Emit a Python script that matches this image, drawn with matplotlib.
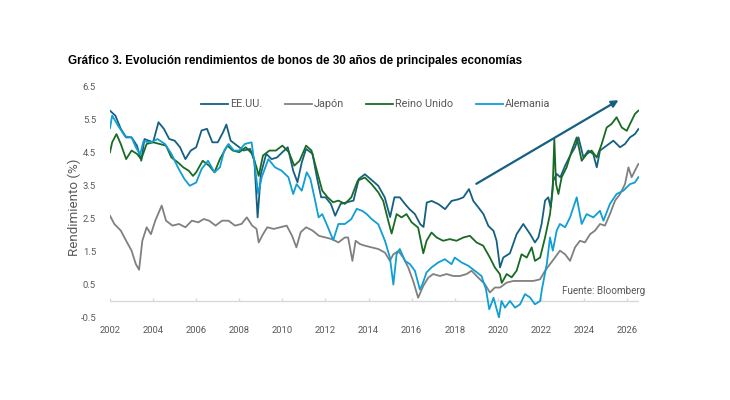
import matplotlib
matplotlib.use("Agg")
import matplotlib.pyplot as plt

# === DATOS (años fraccionales) ===
us_t = [2002.0, 2002.25, 2002.5, 2002.75, 2003.0, 2003.25, 2003.45, 2003.6, 2003.8, 2004.0,
        2004.25, 2004.5, 2004.75, 2005.0, 2005.25, 2005.5, 2005.75, 2006.0, 2006.25, 2006.5,
        2006.75, 2007.0, 2007.25, 2007.4, 2007.6, 2007.9, 2008.2, 2008.5, 2008.7, 2008.85,
        2009.0, 2009.25, 2009.5, 2009.75, 2010.0, 2010.25, 2010.5, 2010.7, 2010.9, 2011.1,
        2011.4, 2011.6, 2011.8, 2012.0, 2012.25, 2012.45, 2012.7, 2013.0, 2013.3, 2013.55,
        2013.83, 2014.1, 2014.45, 2014.75, 2015.0, 2015.2, 2015.45, 2015.7, 2015.9, 2016.15,
        2016.4, 2016.55, 2016.7, 2016.93, 2017.25, 2017.55, 2017.85, 2018.17, 2018.4, 2018.66,
        2018.86, 2019.1, 2019.33, 2019.56, 2019.8, 2019.94, 2020.1, 2020.25, 2020.56, 2020.87,
        2021.18, 2021.5, 2021.72, 2021.88, 2022.03, 2022.19, 2022.34, 2022.45, 2022.57, 2022.73,
        2022.9, 2023.12, 2023.35, 2023.58, 2023.74, 2023.97, 2024.2, 2024.43, 2024.59, 2024.74,
        2025.05, 2025.36, 2025.67, 2025.9, 2026.13, 2026.36, 2026.52]
us_y = [5.78, 5.63, 5.23, 4.97, 4.97, 4.72, 4.26, 4.92, 4.87, 4.82,
        5.43, 5.23, 4.92, 4.87, 4.67, 4.31, 4.57, 4.67, 5.18, 5.23,
        4.82, 4.82, 5.13, 5.36, 4.87, 4.72, 4.57, 4.62, 4.26, 2.54,
        3.86, 4.47, 4.31, 4.36, 4.52, 4.67, 3.96, 3.61, 4.21, 4.62,
        4.47, 3.76, 3.15, 3.15, 2.95, 2.59, 2.95, 3.0, 3.05, 3.71,
        3.85, 3.70, 3.5, 3.15, 2.55, 3.15, 3.15, 2.94, 2.79, 2.64,
        2.33, 2.25, 2.99, 3.04, 2.94, 2.79, 3.04, 3.09, 3.15, 3.40,
        3.04, 2.84, 2.64, 2.28, 2.13, 1.83, 1.02, 1.32, 1.45, 2.03,
        2.34, 2.03, 1.78, 1.93, 2.34, 3.05, 3.15, 2.84, 3.65, 3.86,
        3.76, 4.11, 4.41, 4.67, 4.97, 4.36, 4.57, 4.46, 4.06, 4.57,
        4.72, 4.87, 4.67, 4.77, 4.97, 5.07, 5.22]

jp_t = [2002.0, 2002.2, 2002.5, 2002.75, 2003.0, 2003.2, 2003.35, 2003.5, 2003.7, 2003.9,
        2004.1, 2004.4, 2004.6, 2004.9, 2005.2, 2005.5, 2005.8, 2006.1, 2006.35, 2006.6,
        2006.9, 2007.2, 2007.5, 2007.8, 2008.1, 2008.35, 2008.6, 2008.8, 2008.9, 2009.1,
        2009.3, 2009.6, 2009.9, 2010.2, 2010.45, 2010.65, 2010.85, 2011.1, 2011.4, 2011.7,
        2012.0, 2012.3, 2012.6, 2012.9, 2013.05, 2013.25, 2013.4, 2013.6, 2013.83, 2014.14,
        2014.45, 2014.76, 2014.99, 2015.15, 2015.38, 2015.61, 2015.84, 2016.07, 2016.3, 2016.54,
        2016.77, 2017.0, 2017.31, 2017.62, 2017.93, 2018.24, 2018.55, 2018.78, 2019.09, 2019.4,
        2019.63, 2019.86, 2020.1, 2020.41, 2020.72, 2021.03, 2021.34, 2021.65, 2021.96, 2022.19,
        2022.42, 2022.65, 2022.88, 2023.12, 2023.35, 2023.58, 2023.81, 2024.04, 2024.28, 2024.51,
        2024.74, 2024.97, 2025.2, 2025.44, 2025.67, 2025.9, 2026.06, 2026.21, 2026.36, 2026.52]
jp_y = [2.59, 2.34, 2.14, 1.83, 1.53, 1.12, 0.95, 1.83, 2.24, 2.03,
        2.44, 2.90, 2.44, 2.29, 2.34, 2.24, 2.44, 2.39, 2.49, 2.44,
        2.29, 2.44, 2.44, 2.29, 2.34, 2.54, 2.29, 2.19, 1.78, 2.03,
        2.24, 2.19, 2.24, 2.29, 1.98, 1.63, 2.09, 2.24, 2.14, 1.98,
        1.93, 1.88, 1.78, 1.93, 1.93, 1.22, 1.83, 1.73, 1.68, 1.63,
        1.58, 1.47, 1.22, 1.42, 1.52, 1.32, 1.02, 0.61, 0.1, 0.46,
        0.71, 0.82, 0.76, 0.82, 0.76, 0.76, 0.82, 0.92, 0.71, 0.51,
        0.26, 0.41, 0.41, 0.56, 0.61, 0.61, 0.61, 0.61, 0.66, 0.92,
        1.12, 1.32, 1.53, 1.42, 1.22, 1.63, 1.83, 1.78, 2.03, 2.14,
        2.34, 2.29, 2.64, 3.05, 3.25, 3.55, 4.06, 3.76, 3.96, 4.16]

uk_t = [2002.0, 2002.1, 2002.3, 2002.5, 2002.75, 2003.0, 2003.25, 2003.45, 2003.7, 2004.0,
        2004.3, 2004.6, 2004.85, 2005.15, 2005.4, 2005.65, 2005.85, 2006.0, 2006.3, 2006.6,
        2006.85, 2007.1, 2007.45, 2007.7, 2008.0, 2008.3, 2008.6, 2008.8, 2008.9, 2009.1,
        2009.4, 2009.7, 2010.0, 2010.3, 2010.55, 2010.8, 2011.1, 2011.35, 2011.6, 2011.85,
        2012.1, 2012.35, 2012.6, 2012.9, 2013.2, 2013.5, 2013.83, 2014.14, 2014.45, 2014.68,
        2014.91, 2015.07, 2015.3, 2015.53, 2015.76, 2016.0, 2016.3, 2016.54, 2016.69, 2016.92,
        2017.16, 2017.46, 2017.77, 2018.08, 2018.4, 2018.7, 2019.01, 2019.32, 2019.63, 2019.86,
        2020.09, 2020.18, 2020.41, 2020.64, 2020.87, 2021.1, 2021.34, 2021.57, 2021.72, 2021.96,
        2022.19, 2022.42, 2022.54, 2022.62, 2022.7, 2022.81, 2022.96, 2023.19, 2023.43, 2023.66,
        2023.89, 2024.12, 2024.35, 2024.59, 2024.82, 2025.05, 2025.28, 2025.51, 2025.75, 2025.98,
        2026.21, 2026.36, 2026.52]
uk_y = [4.52, 4.82, 5.07, 4.77, 4.31, 4.57, 4.47, 4.31, 4.77, 4.82,
        4.77, 4.72, 4.36, 4.21, 4.06, 3.96, 3.8, 3.91, 4.26, 4.11,
        3.91, 4.31, 4.72, 4.57, 4.52, 4.67, 4.47, 4.06, 3.8, 4.42,
        4.57, 4.57, 4.72, 4.52, 4.11, 4.26, 4.72, 4.57, 3.96, 3.35,
        3.15, 3.0, 3.05, 2.95, 3.15, 3.66, 3.75, 3.55, 3.30, 3.04,
        2.44, 2.05, 2.64, 2.54, 2.64, 2.39, 2.23, 1.45, 1.83, 2.08,
        1.93, 1.83, 1.88, 1.83, 1.93, 1.98, 1.78, 1.68, 1.32, 1.02,
        0.82, 0.55, 0.82, 0.72, 0.92, 1.42, 1.32, 1.63, 1.22, 1.32,
        1.93, 2.64, 3.35, 4.92, 3.55, 3.25, 3.76, 4.06, 4.57, 4.97,
        4.26, 4.46, 4.57, 4.36, 4.77, 5.27, 5.38, 5.58, 5.27, 5.17,
        5.48, 5.68, 5.78]

de_t = [2002.0, 2002.1, 2002.4, 2002.7, 2003.0, 2003.2, 2003.4, 2003.55, 2003.9, 2004.2,
        2004.55, 2004.85, 2005.15, 2005.45, 2005.7, 2006.0, 2006.25, 2006.55, 2006.85, 2007.1,
        2007.3, 2007.5, 2007.75, 2008.0, 2008.26, 2008.57, 2008.73, 2008.88, 2009.04, 2009.35,
        2009.66, 2009.96, 2010.28, 2010.5, 2010.66, 2010.9, 2011.13, 2011.3, 2011.52, 2011.68,
        2011.85, 2012.05, 2012.36, 2012.6, 2012.9, 2013.2, 2013.45, 2013.7, 2013.9, 2014.14,
        2014.45, 2014.76, 2014.99, 2015.15, 2015.3, 2015.45, 2015.69, 2015.92, 2016.15, 2016.38,
        2016.5, 2016.69, 2016.92, 2017.23, 2017.54, 2017.85, 2018.0, 2018.32, 2018.63, 2018.93,
        2019.24, 2019.45, 2019.6, 2019.8, 2020.05, 2020.17, 2020.33, 2020.56, 2020.8, 2021.03,
        2021.26, 2021.49, 2021.72, 2021.96, 2022.06, 2022.27, 2022.42, 2022.55, 2022.73, 2022.88,
        2023.12, 2023.35, 2023.66, 2023.89, 2024.12, 2024.43, 2024.74, 2024.9, 2025.2, 2025.51,
        2025.82, 2026.13, 2026.36, 2026.52]
de_y = [5.25, 5.63, 5.3, 5.0, 4.97, 4.67, 4.45, 4.85, 4.82, 4.92,
        4.77, 4.47, 4.06, 3.71, 3.5, 3.6, 4.01, 4.26, 3.91, 4.06,
        4.57, 4.77, 4.57, 4.57, 4.77, 4.82, 4.06, 3.25, 3.76, 4.31,
        4.06, 3.96, 3.76, 3.25, 3.55, 3.35, 3.91, 3.71, 3.05, 2.54,
        2.64, 2.34, 1.85, 2.34, 2.34, 2.49, 2.8, 2.74, 2.65, 2.49,
        2.33, 1.83, 1.32, 0.5, 1.42, 1.58, 1.22, 1.12, 0.92, 0.35,
        0.51, 0.87, 1.02, 1.17, 1.27, 1.12, 1.32, 1.17, 1.07, 0.92,
        0.76, 0.35, -0.25, 0.1, -0.5, 0.0, -0.2, 0.0, -0.2, -0.1,
        0.21, 0.11, -0.1, 0.0, 0.41, 1.12, 1.93, 1.53, 2.14, 2.34,
        2.24, 2.54, 3.15, 2.34, 2.64, 2.54, 2.74, 2.44, 2.95, 3.25,
        3.35, 3.55, 3.6, 3.76]

year_ticks = list(range(2002, 2027, 2))
y_ticks = [-0.5, 0.5, 1.5, 2.5, 3.5, 4.5, 5.5, 6.5]

# flecha de tendencia (inicio, fin)
arrow_start = (2019.0, 3.56)
arrow_end = (2025.6, 6.1)

# colores tema Office
C_US = "#156082"
C_JP = "#808080"
C_UK = "#196B24"
C_DE = "#0F9ED5"
C_TXT = "#595959"

plt.rcParams['font.family'] = ['Roboto', 'DejaVu Sans']

fig = plt.figure(figsize=(7.3, 4.0), dpi=100)
ax = fig.add_axes([110 / 730, 1 - 317.5 / 400, (639 - 110) / 730, (317.5 - 87) / 400])

lw = 1.3
ax.plot(us_t, us_y, color=C_US, lw=lw, label="EE.UU.")
ax.plot(jp_t, jp_y, color=C_JP, lw=lw, label="Japón")
ax.plot(uk_t, uk_y, color=C_UK, lw=lw, label="Reino Unido")
ax.plot(de_t, de_y, color=C_DE, lw=lw, label="Alemania")

ax.annotate("", xy=arrow_end, xytext=arrow_start,
            arrowprops=dict(arrowstyle="-|>", color=C_US, lw=1.6, mutation_scale=10,
                            shrinkA=0, shrinkB=0))

ax.set_xlim(2002, 2026.55)
ax.set_ylim(-0.5, 6.5)

# eje horizontal en cero, con marcas pequeñas
ax.axhline(0, color="#D9D9D9", lw=1.0, zorder=0)
ax.vlines(year_ticks, 0, 0.1, color="#D9D9D9", lw=1.0, zorder=0)

for s in ax.spines.values():
    s.set_visible(False)

ax.set_xticks(year_ticks)
ax.set_xticklabels([str(y) for y in year_ticks])
ax.set_yticks(y_ticks)
ax.set_yticklabels([f"{v:.1f}" for v in y_ticks])
ax.tick_params(axis="both", length=0, labelsize=6.8, colors=C_TXT)
ax.tick_params(axis="x", pad=6)
ax.tick_params(axis="y", pad=10)

ax.set_ylabel("Rendimiento (%)", fontsize=9.6, color=C_TXT)
ax.yaxis.set_label_coords(-0.054, 0.479)

leg = ax.legend(loc="center left", bbox_to_anchor=((201 - 110) / 529, (317.5 - 104.5) / 230.5),
                ncol=4, frameon=False, fontsize=7.8, handlelength=2.5, handletextpad=0.15,
                columnspacing=2.1, borderpad=0, borderaxespad=0)
for t in leg.get_texts():
    t.set_color(C_TXT)

fig.text(68 / 730, 1 - 61 / 400,
         "Gráfico 3. Evolución rendimientos de bonos de 30 años de principales economías",
         fontsize=8.4, fontweight="bold", family=["Liberation Sans", "DejaVu Sans"],
         va="center", ha="left", color="black")

fig.text(562 / 730, 1 - 291 / 400, "Fuente: Bloomberg", fontsize=7.1, color=C_TXT,
         va="center", ha="left")

fig.savefig("out.png", dpi=100)
